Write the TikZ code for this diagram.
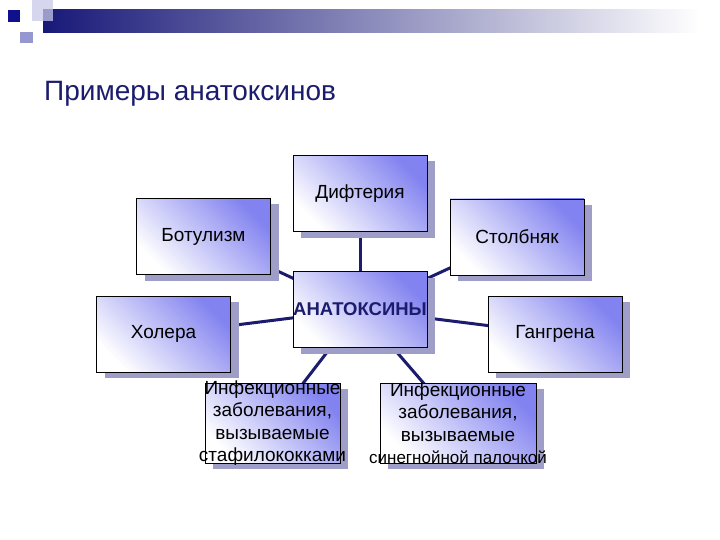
\documentclass[tikz,border=0pt]{standalone}
\usepackage{fontspec}
\setmainfont{Liberation Sans}
\usepackage{xcolor}
\usetikzlibrary{shadows,backgrounds}
\definecolor{navy}{RGB}{28,28,110}
\definecolor{barnavy}{RGB}{24,24,120}
\definecolor{boxblue}{RGB}{130,130,240}
\definecolor{shadowblue}{RGB}{158,158,200}
\definecolor{lav}{RGB}{200,200,232}
\definecolor{lavdark}{RGB}{150,150,208}
\definecolor{sqblue}{RGB}{16,16,140}

\begin{document}
\begin{tikzpicture}[
    x=1pt, y=-1pt,
    box/.style={draw=black, line width=0.8pt, inner sep=0pt, minimum width=134pt, minimum height=76pt,
        top color=boxblue, middle color=boxblue!35!white, bottom color=white, shading angle=-45,
        drop shadow={shadow xshift=8pt, shadow yshift=-6pt, fill=shadowblue, opacity=1},
        align=center, font=\fontsize{19}{22.5}\selectfont},
    center/.style={box, font=\fontsize{18.5}{22}\selectfont\bfseries, text=navy},
    boxtext/.style={align=center, inner sep=0pt, font=\fontsize{19}{22.5}\selectfont},
    link/.style={draw=navy, line width=3pt},
]
\useasboundingbox (0,0) rectangle (720,540);
% Header decoration
\fill[left color=barnavy, right color=white] (43,10) rectangle (700,33);
\fill[lav, opacity=0.75] (32,0) rectangle (53,21);
\fill[sqblue] (8,10) rectangle (20,22);
\fill[lavdark] (20,32) rectangle (33,43);
% Title
\node[anchor=base west, inner sep=0pt, text=navy, font=\fontsize{28}{32}\selectfont] (title) at (44,101) {Примеры анатоксинов};
% Boxes
\node[center] (anat) at (360,309.5) {АНАТОКСИНЫ};
\node[box] (dift) at (360,193.5) {Дифтерия};
\node[box] (botul) at (203.5,236.5) {Ботулизм};
\node[box] (stolb) at (517,237) {Столбняк};
\node[box] (holera) at (163.5,334) {Холера};
\node[box] (gangr) at (555,334) {Гангрена};
\node[box, minimum width=135pt, minimum height=80pt] (inf1) at (272.5,423) {};
\node[box, minimum width=156pt, minimum height=80pt] (inf2) at (458,423) {};
\node[boxtext] (inf1txt) at (inf1) {Инфекционные\\заболевания,\\вызываемые\\стафилококками};
\node[boxtext] (inf2txt) at (inf2) {Инфекционные\\заболевания,\\вызываемые\\{\fontsize{17}{22.5}\selectfont синегнойной палочкой}};
% Links
\begin{scope}[on background layer]
\draw[link] (anat.center) -- (dift.center);
\draw[link] (anat.center) -- (botul.center);
\draw[link] (anat.center) -- (stolb.center);
\draw[link] (anat.center) -- (holera.center);
\draw[link] (anat.center) -- (gangr.center);
\draw[link] (anat.center) -- (inf1.center);
\draw[link] (anat.center) -- (inf2.center);
\end{scope}
\end{tikzpicture}
\end{document}
